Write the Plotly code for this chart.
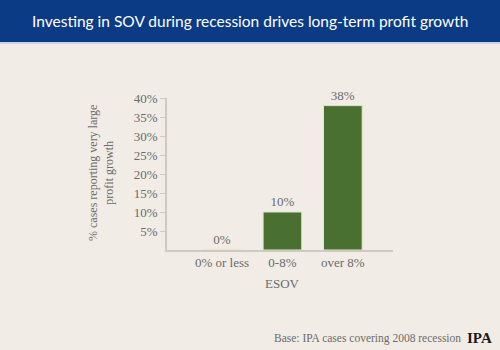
import plotly.graph_objects as go

categories = ["0% or less", "0-8%", "over 8%"]
values = [0, 10, 38]
value_labels = ["0%", "10%", "38%"]
tick_vals = [5, 10, 15, 20, 25, 30, 35, 40]
tick_text = ["5%", "10%", "15%", "20%", "25%", "30%", "35%", "40%"]

title = "Investing in SOV during recession drives long-term profit growth"
y_title = "% cases reporting very large<br>profit growth"
x_title = "ESOV"
footer = "Base: IPA cases covering 2008 recession"

BG = "#f1ede6"
TXT = "#6b6b6b"
SERIF = "Liberation Serif, DejaVu Serif, serif"

fig = go.Figure()
fig.add_trace(go.Bar(
    x=list(range(len(categories))), y=values,
    text=value_labels, textposition="outside",
    textfont=dict(family=SERIF, size=13, color=TXT),
    marker=dict(color="#4a7031", line=dict(color="#dfe8cf", width=1)),
    width=0.64, cliponaxis=False,
))

fig.update_layout(
    width=500, height=350,
    margin=dict(l=167, r=107, t=98, b=100),
    paper_bgcolor=BG, plot_bgcolor=BG,
    showlegend=False,
    xaxis=dict(
        range=[-0.91, 2.83], tickvals=list(range(len(categories))), ticktext=categories,
        showgrid=False, zeroline=False, showline=True, linecolor="#cfc9c0", linewidth=1.5,
        tickfont=dict(family=SERIF, size=13, color=TXT), ticks="",
    ),
    yaxis=dict(
        range=[0, 40], tickvals=tick_vals, ticktext=tick_text,
        showgrid=False, zeroline=False, showline=True, linecolor="#cfc9c0", linewidth=1.5,
        ticks="outside", ticklen=5, tickcolor="#cfc9c0",
        tickfont=dict(family=SERIF, size=13, color=TXT),
    ),
)

ph = 350 - 98 - 100
pw = 500 - 167 - 107
def px(x):
    return (x - 167) / pw
def py(y):
    return (250 - y) / ph

fig.add_shape(type="rect", xref="paper", yref="paper", x0=px(-5), x1=px(505), y0=py(42), y1=py(-5),
              fillcolor="#0b3b84", line=dict(width=0))
fig.add_shape(type="rect", xref="paper", yref="paper", x0=px(-5), x1=px(505), y0=py(44), y1=py(42),
              fillcolor="#c9d2e3", line=dict(width=0))
fig.add_annotation(text=title, xref="paper", yref="paper", x=px(250), y=py(21),
                   showarrow=False, xanchor="center", yanchor="middle",
                   font=dict(family="Lato, Open Sans, sans-serif", size=15.5, color="white"))
fig.add_annotation(text=y_title, xref="paper", yref="paper", x=px(101), y=py(173),
                   showarrow=False, textangle=-90, xanchor="center", yanchor="middle",
                   font=dict(family=SERIF, size=12, color=TXT))
fig.add_annotation(text=x_title, xref="paper", yref="paper", x=px(282), y=py(283),
                   showarrow=False, xanchor="center", yanchor="middle",
                   font=dict(family=SERIF, size=13, color=TXT))
fig.add_annotation(text=footer, xref="paper", yref="paper", x=px(463), y=py(338),
                   showarrow=False, xanchor="right", yanchor="middle",
                   font=dict(family=SERIF, size=11.5, color=TXT))
fig.add_annotation(text="<b>IPA</b>", xref="paper", yref="paper", x=px(479), y=py(338),
                   showarrow=False, xanchor="center", yanchor="middle",
                   font=dict(family="Liberation Serif, serif", size=15, color="#1a1a1a"))

fig.write_html("out.html")
